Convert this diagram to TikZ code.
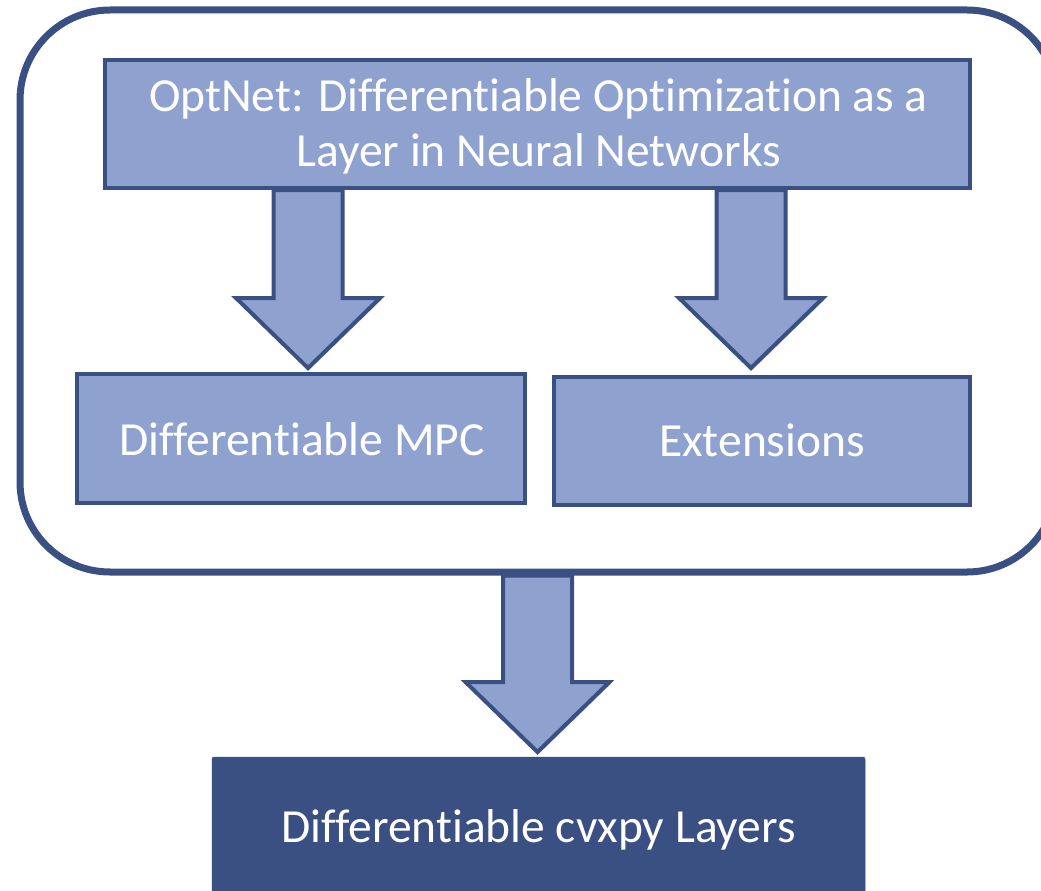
\documentclass[tikz,border=0pt]{standalone}
\usepackage{fontspec}
\setmainfont{Carlito}[Ligatures={NoCommon}]
\usetikzlibrary{calc,shadows}
\definecolor{lightfill}{HTML}{8FA2CF}
\definecolor{edgeblue}{HTML}{3A5083}
\definecolor{darkfill}{HTML}{3A4F82}
\newcommand{\blockarrow}[2]{%
  \draw[arrowbody] ($(#1)+(-34.5,0)$) -- ($(#2)+(-34.5,-70)$) -- ($(#2)+(-72,-70)$) -- (#2)
    -- ($(#2)+(72,-70)$) -- ($(#2)+(34.5,-70)$) -- ($(#1)+(34.5,0)$) -- cycle;}
\begin{document}
\begin{tikzpicture}[x=1pt,y=-1pt,
  softshadow/.style={drop shadow={shadow xshift=1.5pt,shadow yshift=-2pt,opacity=0.25,fill=black!60}},
  outerbox/.style={draw=edgeblue,line width=7pt,rounded corners=90pt,fill=white,softshadow,inner sep=0pt},
  lightbox/.style={draw=edgeblue,line width=4pt,fill=lightfill,softshadow,inner sep=0pt},
  darkbox/.style={draw=darkfill,line width=0.5pt,fill=darkfill,rounded corners=2pt,inner sep=0pt},
  label/.style={text=white,font=\fontsize{47.5}{55}\selectfont,anchor=base,inner sep=0pt},
  arrowbody/.style={draw=edgeblue,line width=4pt,fill=lightfill,line join=miter,softshadow},
]
\useasboundingbox (0,0) rectangle (1041,891);
\clip (0,0) rectangle (1041,891);
\fill[white] (0,0) rectangle (1041,891);

% outer group
\node[outerbox,minimum width=1037pt,minimum height=562pt] (outer) at (538.5,291) {};

% boxes
\node[lightbox,minimum width=865pt,minimum height=128pt] (optnet) at (537.5,124) {};
\node[label] (optnetA) at (538.5,111) {OptNet: Differentiable Optimization as a};
\node[label] (optnetB) at (538.5,166) {Layer in Neural Networks};

\node[lightbox,minimum width=448pt,minimum height=129pt] (mpc) at (301,438.5) {};
\node[label] (mpcT) at (302,455) {Differentiable MPC};

\node[lightbox,minimum width=416pt,minimum height=128pt] (ext) at (762,441) {};
\node[label] (extT) at (762,456) {Extensions};

\node[darkbox,minimum width=653pt,minimum height=180pt] (cvx) at (538.5,847) {};
\node[label] (cvxT) at (538.5,842) {Differentiable cvxpy Layers};

% block arrows
\coordinate (a1s) at (308,0 |- optnet.south);
\coordinate (a1t) at (308,368);
\coordinate (a2s) at (751,0 |- optnet.south);
\coordinate (a2t) at (751,368);
\coordinate (a3s) at (537.5,0 |- outer.south);
\coordinate (a3t) at (537.5,752);
\blockarrow{a1s}{a1t}
\blockarrow{a2s}{a2t}
\blockarrow{a3s}{a3t}
\end{tikzpicture}
\end{document}
